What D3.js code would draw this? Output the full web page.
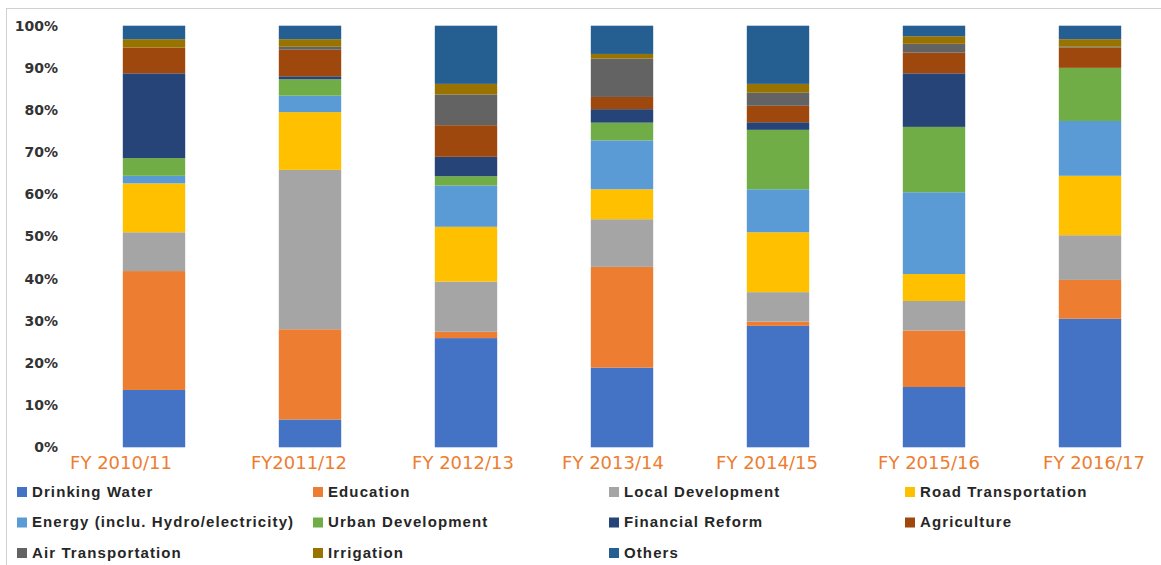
<!DOCTYPE html>
<html>
<head>
<meta charset="utf-8">
<script src="https://cdn.jsdelivr.net/npm/d3@7"></script>
<style>
  body { margin: 0; background: #fff; }
  svg { display: block; }
</style>
</head>
<body>
<div id="chart"></div>
<script>
"use strict";

// === DATA (shares in %) ===
const years = ["FY 2010/11", "FY2011/12", "FY 2012/13", "FY 2013/14", "FY 2014/15", "FY 2015/16", "FY 2016/17"];

const sectors = ["Drinking Water", "Education", "Local Development", "Road Transportation",
  "Energy (inclu. Hydro/electricity)", "Urban Development", "Financial Reform", "Agriculture",
  "Air Transportation", "Irrigation", "Others"];

const drinkingWater = [13.6, 6.6, 25.9, 18.9, 28.8, 14.3, 30.5];
const education     = [28.2, 21.4, 1.5, 23.9, 1.0, 13.4, 9.2];
const localDev      = [9.2, 37.8, 11.9, 11.3, 7.0, 7.0, 10.6];
const roadTransport = [11.6, 13.7, 13.0, 7.1, 14.2, 6.4, 14.1];
const energy        = [1.8, 3.9, 9.8, 11.6, 10.2, 19.4, 13.0];
const urbanDev      = [4.2, 3.9, 2.2, 4.2, 14.1, 15.5, 12.6];
const financial     = [20.1, 0.7, 4.6, 3.2, 1.8, 12.7, 0];
const agriculture   = [6.1, 6.3, 7.5, 2.9, 3.9, 4.9, 4.8];
const airTransport  = [0, 0.7, 7.3, 9.1, 3.1, 2.1, 0.2];
const irrigation    = [2.0, 1.8, 2.5, 1.1, 2.1, 1.8, 1.8];
const others        = [3.2, 3.2, 13.8, 6.7, 13.8, 2.5, 3.2];

const yTicks = [0, 10, 20, 30, 40, 50, 60, 70, 80, 90, 100];

const colors = ["#4472C4", "#ED7D31", "#A5A5A5", "#FFC000", "#5B9BD5", "#70AD47",
  "#264478", "#9E480E", "#636363", "#997300", "#255E91"];

const seriesValues = [drinkingWater, education, localDev, roadTransport, energy, urbanDev,
  financial, agriculture, airTransport, irrigation, others];

// the category labels in the original sit a little off their bars
const labelShift = [-33, -11, -3, -9, -11, -5, 4];

// table for d3.stack
const rows = years.map((y, i) => {
  const row = { year: y };
  sectors.forEach((s, j) => { row[s] = seriesValues[j][i]; });
  return row;
});

// === SVG SETUP ===
const width = 1161, height = 565;
const svg = d3.select("#chart").append("svg")
  .attr("width", width)
  .attr("height", height);

// chart frame
svg.append("rect")
  .attr("x", 6.5).attr("y", 8.5)
  .attr("width", 1200).attr("height", 600)
  .attr("fill", "none")
  .attr("stroke", "#d0d0d0");

// === SCALES ===
const x = d3.scaleBand()
  .domain(years)
  .range([76, 1168])
  .paddingInner(0.6)
  .paddingOuter(0.3);

const y = d3.scaleLinear()
  .domain([0, 100])
  .range([447.3, 25.7]);

const color = d3.scaleOrdinal().domain(sectors).range(colors);

const stacked = d3.stack().keys(sectors)(rows);

// === BARS ===
svg.append("g")
  .selectAll("g")
  .data(stacked)
  .join("g")
  .attr("fill", d => color(d.key))
  .selectAll("rect")
  .data(d => d)
  .join("rect")
  .attr("x", d => x(d.data.year))
  .attr("y", d => y(d[1]))
  .attr("width", x.bandwidth())
  .attr("height", d => y(d[0]) - y(d[1]));

// === Y AXIS ===
const yAxis = d3.axisLeft(y)
  .tickValues(yTicks)
  .tickFormat(d => d + "%")
  .tickSize(0)
  .tickPadding(0);

const yg = svg.append("g")
  .attr("transform", "translate(58,0)")
  .call(yAxis);
yg.select(".domain").remove();
yg.selectAll("text")
  .attr("font-family", "DejaVu Sans, sans-serif")
  .attr("font-weight", "bold")
  .attr("font-size", "14px")
  .attr("fill", "#333");

// === X AXIS ===
const xAxis = d3.axisBottom(x).tickSize(0).tickPadding(0);
const xg = svg.append("g")
  .attr("transform", "translate(0,450)")
  .call(xAxis);
xg.select(".domain").remove();
xg.selectAll("text")
  .attr("x", (d, i) => labelShift[i])
  .attr("dy", "1.05em")
  .attr("font-family", "DejaVu Sans, sans-serif")
  .attr("font-size", "18px")
  .attr("fill", "#ED7D31");

// === LEGEND ===
const legendX = [17, 313, 609, 905];
const legendY = [487, 517.5, 548];

const legend = svg.append("g")
  .selectAll("g")
  .data(sectors)
  .join("g")
  .attr("transform", (d, i) => `translate(${legendX[i % 4]},${legendY[Math.floor(i / 4)]})`);

legend.append("rect")
  .attr("width", 10)
  .attr("height", 10)
  .attr("fill", d => color(d));

legend.append("text")
  .attr("x", 15)
  .attr("y", 9.5)
  .attr("font-family", "Liberation Sans, Arial, sans-serif")
  .attr("font-weight", "bold")
  .attr("font-size", "15px")
  .attr("letter-spacing", "1.1px")
  .attr("fill", "#262626")
  .text(d => d);
</script>
</body>
</html>
